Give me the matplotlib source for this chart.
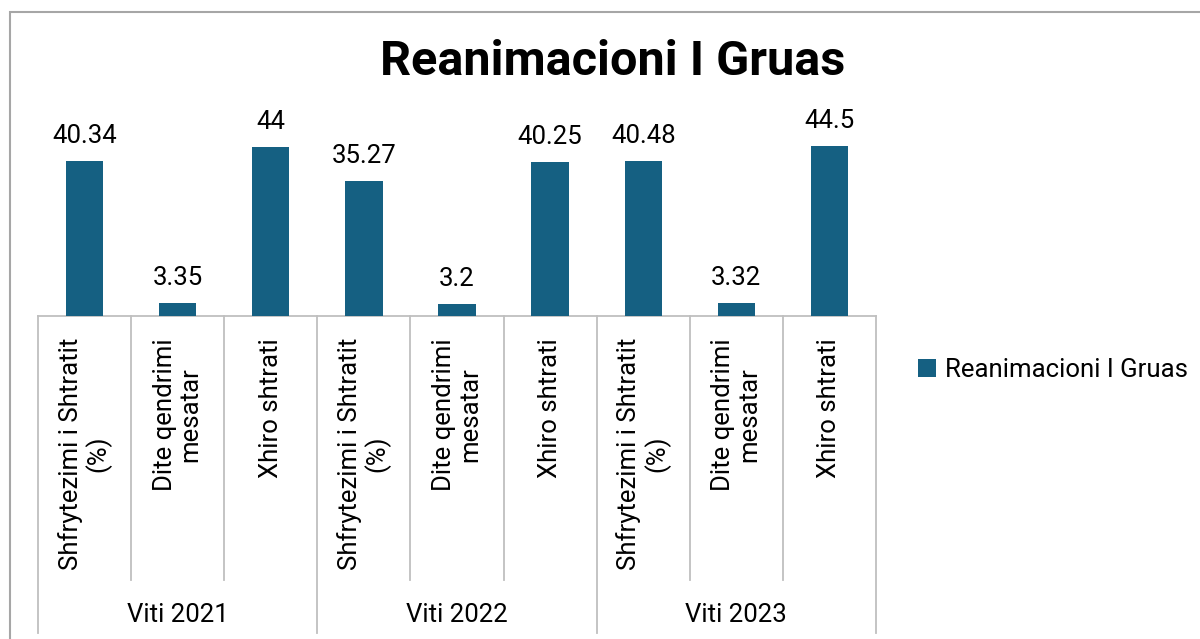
import matplotlib
matplotlib.use('Agg')
import matplotlib.pyplot as plt
from matplotlib.transforms import blended_transform_factory
from matplotlib.patches import Rectangle

# chart data
groups = ['Viti 2021', 'Viti 2022', 'Viti 2023']
categories = ['Shfrytezimi i Shtratit\n(%)', 'Dite qendrimi\nmesatar', 'Xhiro shtrati']
values = [40.34, 3.35, 44, 35.27, 3.2, 40.25, 40.48, 3.32, 44.5]
value_labels = ['40.34', '3.35', '44', '35.27', '3.2', '40.25', '40.48', '3.32', '44.5']
series_name = 'Reanimacioni I Gruas'

plt.rcParams['font.family'] = ['Roboto', 'DejaVu Sans']

W, H = 1200, 639
fs = 18.5
fig = plt.figure(figsize=(12, 6.39), dpi=100)
ax = fig.add_axes([38 / W, 1 - 316 / H, (876 - 38) / W, (316 - 124.5) / H])

bar_color = '#156082'
grid_color = '#BFBFBF'

x = list(range(len(values)))
bars = ax.bar(x, values, width=0.4, color=bar_color, label=series_name, zorder=3)

for xi, v, lab in zip(x, values, value_labels):
    ax.annotate(lab, (xi, v), xytext=(0, 13), textcoords='offset points',
                ha='center', va='baseline', fontsize=fs, color='#000000')

ax.set_xlim(-0.5, len(values) - 0.5)
ax.set_ylim(0, 50)
ax.axis('off')

# multi-level category axis
tr = blended_transform_factory(ax.transData, fig.transFigure)
y_axis = 1 - 316 / H
y_sub = 1 - 580 / H
y_grp = 1 - 633 / H
ax.plot([-0.5, len(values) - 0.5], [y_axis, y_axis], transform=tr, color=grid_color,
        lw=1.3, clip_on=False)
n_sub = len(categories)
for i in range(len(values) + 1):
    xb = i - 0.5
    y_end = y_grp if i % n_sub == 0 else y_sub
    ax.plot([xb, xb], [y_axis, y_end], transform=tr, color=grid_color, lw=1.3, clip_on=False)

for i, xi in enumerate(x):
    ax.text(xi, 1 - 338 / H, categories[i % n_sub], transform=tr, rotation=90,
            ha='center', va='top', multialignment='center', fontsize=fs, linespacing=1.1)

for g, name in enumerate(groups):
    ax.text(g * n_sub + (n_sub - 1) / 2, 1 - 615 / H, name, transform=tr,
            ha='center', va='center', fontsize=fs)

fig.text(613 / W, 1 - 62 / H, series_name, ha='center', va='center',
         fontsize=35, fontweight='bold')

ax.legend(loc='center left', bbox_to_anchor=(895 / W, 1 - 370 / H),
          bbox_transform=fig.transFigure, frameon=False, fontsize=fs,
          handlelength=0.7, handleheight=0.7, handletextpad=0.35)

# chart area border
fig.patches.append(Rectangle((10 / W, -0.1), 1.2, 1 - 12 / H + 0.1, transform=fig.transFigure,
                             fill=False, edgecolor='#A6A6A6', lw=1.5))

fig.savefig('out.png', dpi=100)
